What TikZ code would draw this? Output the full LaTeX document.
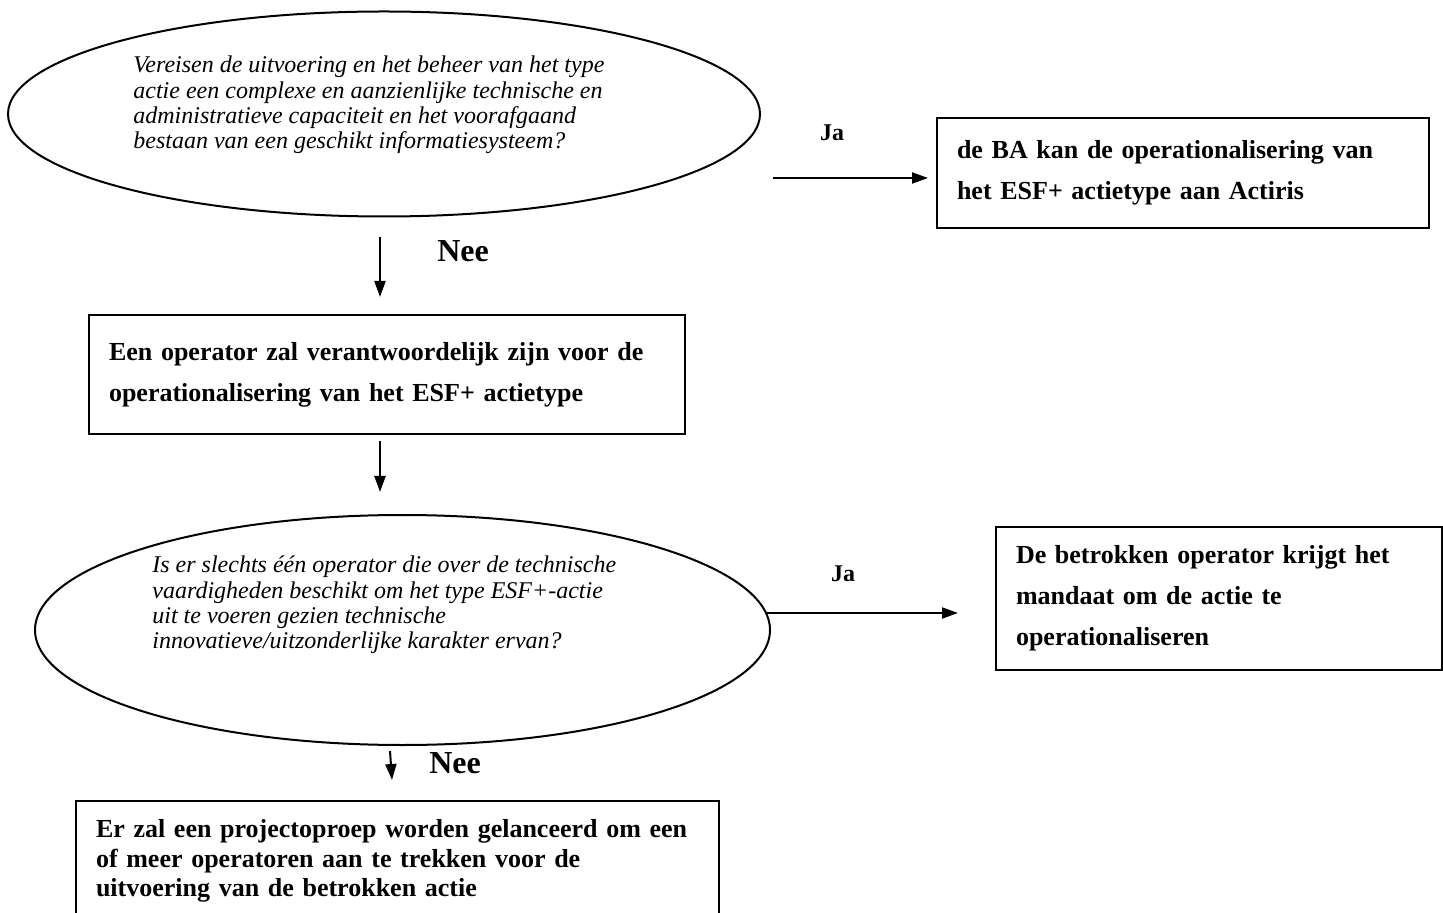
\documentclass[tikz,border=0pt]{standalone}
\usepackage{fontspec}
\setmainfont{Liberation Serif}
\usetikzlibrary{shapes.geometric,arrows.meta}

\tikzset{
  question/.style={draw, ellipse, line width=1pt, inner sep=0pt},
  qtext/.style={anchor=west, align=left, inner sep=0pt,
    font=\fontsize{12}{12.6}\selectfont\itshape},
  outcome/.style={draw, line width=1pt, anchor=north west, inner xsep=10pt,
    align=left, font=\fontsize{13}{20.5}\selectfont\bfseries},
  flow/.style={line width=1pt, -{Triangle[length=8pt,width=5.5pt]}},
  answer/.style={font=\fontsize{12}{13}\selectfont\bfseries},
  answerbig/.style={font=\fontsize{16}{18}\selectfont\bfseries}
}

\begin{document}
\begin{tikzpicture}[x=0.5pt,y=-0.5pt]
  \clip (0,0) rectangle (1443,913);
  \useasboundingbox (0,0) rectangle (1443,913);

  % First question
  \node[question, minimum width=376pt, minimum height=102.5pt] (q1) at (384,114) {};
  \node[qtext] (q1txt) at (133,105) {Vereisen de uitvoering en het beheer van het type\\
    actie een complexe en aanzienlijke technische en\\
    administratieve capaciteit en het voorafgaand\\
    bestaan van een geschikt informatiesysteem?};

  % Ja -> BA
  \node[outcome, minimum width=246pt, minimum height=55pt, text width=226pt] (ba) at (936,117)
    {de BA kan de operationalisering van\\het ESF+ actietype aan Actiris};
  \coordinate (ja1s) at (773,178);
  \coordinate (ja1e) at (928,178);
  \draw[flow] (ja1s) -- (ja1e);
  \node[answer] (ja1) at (832,133) {Ja};

  % Nee -> operator
  \coordinate (nee1s) at (380,237);
  \coordinate (nee1e) at (380,297);
  \draw[flow] (nee1s) -- (nee1e);
  \node[answerbig] (nee1) at (463,251) {Nee};
  \node[outcome, minimum width=298pt, minimum height=59.5pt, text width=278pt] (op) at (88,314)
    {Een operator zal verantwoordelijk zijn voor de\\operationalisering van het ESF+ actietype};

  \coordinate (op2s) at (380,441);
  \coordinate (op2e) at (380,492);
  \draw[flow] (op2s) -- (op2e);

  % Second question
  \node[question, minimum width=367.5pt, minimum height=115pt] (q2) at (402.5,630) {};
  \node[qtext] (q2txt) at (152,605) {Is er slechts één operator die over de technische\\
    vaardigheden beschikt om het type ESF+-actie\\
    uit te voeren gezien technische\\
    innovatieve/uitzonderlijke karakter ervan?};

  % Ja -> mandaat
  \coordinate (ja2s) at (765,613);
  \coordinate (ja2e) at (958,613);
  \draw[flow] (ja2s) -- (ja2e);
  \node[answer] (ja2) at (843,574) {Ja};
  \node[outcome, minimum width=223pt, minimum height=71.5pt, text width=203pt] (mandaat) at (995,526)
    {De betrokken operator krijgt het\\mandaat om de actie te\\operationaliseren};

  % Nee -> projectoproep
  \coordinate (nee2s) at (390,751);
  \coordinate (nee2e) at (392,780);
  \draw[flow] (nee2s) -- (nee2e);
  \node[answerbig] (nee2) at (455,763) {Nee};
  \node[outcome, minimum width=321.5pt, minimum height=60pt, text width=301.5pt,
    font=\fontsize{13}{14.8}\selectfont\bfseries] (oproep) at (75,800)
    {Er zal een projectoproep worden gelanceerd om een\\of meer operatoren aan te trekken voor de\\uitvoering van de betrokken actie};
\end{tikzpicture}
\end{document}
